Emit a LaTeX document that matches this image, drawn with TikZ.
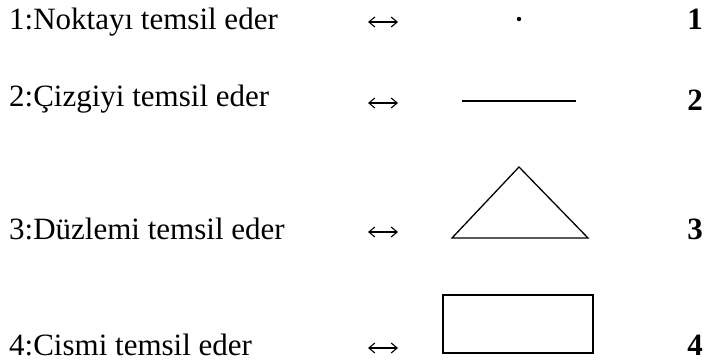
\documentclass[tikz,border=0pt]{standalone}
\usepackage{fontspec}
\setmainfont{Liberation Serif}
\usetikzlibrary{arrows.meta}
\begin{document}
\begin{tikzpicture}[x=1pt,y=-1pt,
  lbl/.style={inner sep=0pt,anchor=base west,font=\fontsize{31}{31}\selectfont},
  num/.style={inner sep=0pt,anchor=base east,font=\fontsize{31}{31}\selectfont\bfseries},
  dblarrow/.style={line width=1.1pt,{Straight Barb[length=6pt,width=10pt]}-{Straight Barb[length=6pt,width=10pt]}},
  figline/.style={line width=1.3pt}]
\useasboundingbox (0,0) rectangle (706,363);
% labels
\node[lbl] (l1) at (9,30) {1:Noktayı temsil eder};
\node[lbl] (l2) at (9,107) {2:Çizgiyi temsil eder};
\node[lbl] (l3) at (9,240) {3:Düzlemi temsil eder};
\node[lbl] (l4) at (9,355) {4:Cismi temsil eder};
% arrows
\coordinate (a1l) at (368,22); \coordinate (a1r) at (398,22);
\coordinate (a2l) at (368,103); \coordinate (a2r) at (398,103);
\coordinate (a3l) at (368,232); \coordinate (a3r) at (398,232);
\coordinate (a4l) at (368,348); \coordinate (a4r) at (398,348);
\draw[dblarrow] (a1l) -- (a1r);
\draw[dblarrow] (a2l) -- (a2r);
\draw[dblarrow] (a3l) -- (a3r);
\draw[dblarrow] (a4l) -- (a4r);
% numbers
\node[num] (n1) at (703,30) {1};
\node[num] (n2) at (703,111) {2};
\node[num] (n3) at (703,240) {3};
\node[num] (n4) at (703,355) {4};
% shapes
\fill (519,19) circle (2.2);
\draw[line width=2pt] (462,101) -- (576,101);
\draw[figline] (519,167) -- (452,238) -- (588,238) -- cycle;
\draw[figline] (443,295) rectangle (593,353);
\end{tikzpicture}
\end{document}
